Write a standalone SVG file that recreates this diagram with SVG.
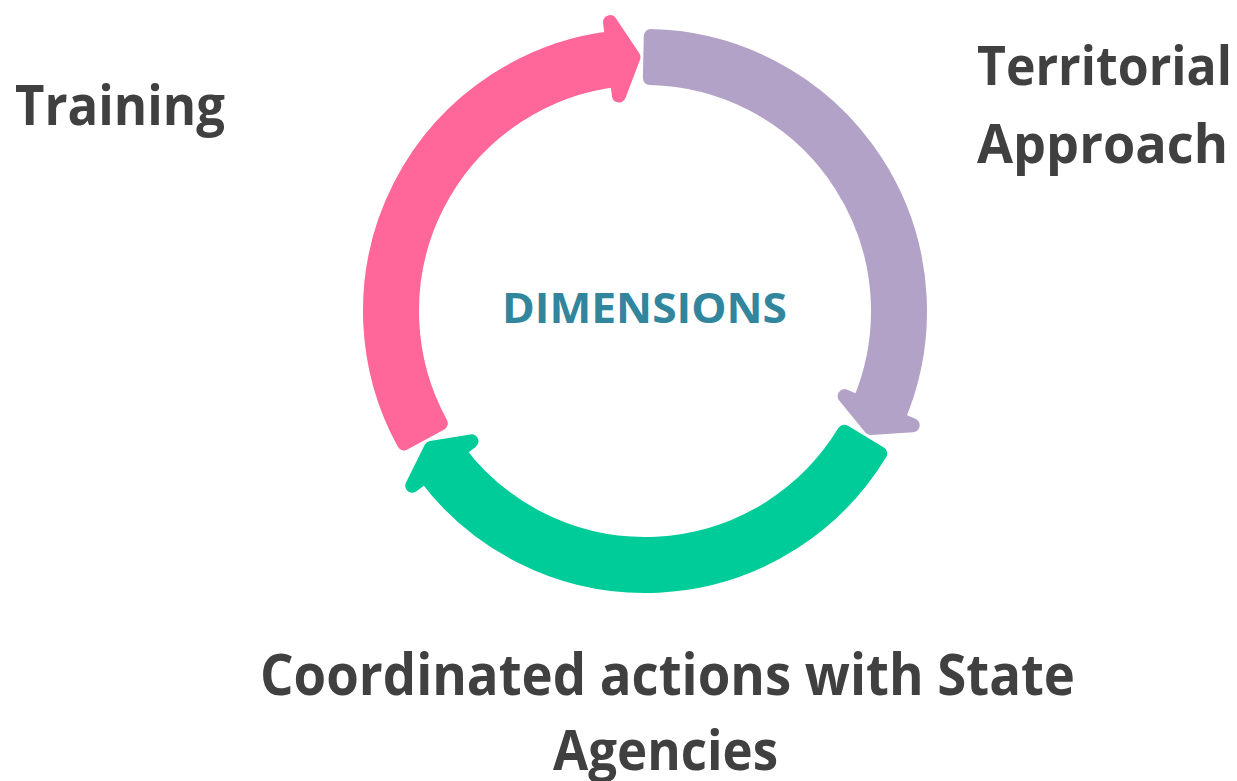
<svg xmlns="http://www.w3.org/2000/svg" width="1237" height="781" viewBox="0 0 1237 781">
  <style>
    .lbl { font-family: "Open Sans", "Liberation Sans", sans-serif; font-weight: 700; fill: #404040; }
    .ctr { font-family: "Open Sans", "Liberation Sans", sans-serif; font-weight: 700; fill: #31859C; }
    .arrow { stroke-width: 14; stroke-linejoin: round; }
  </style>
  <defs>
    <path id="arc" d="M 650.76 36.06 A 275 275 0 0 1 897.95 418.89 L 912.67 425.17 L 870.51 427.89 L 844.60 396.13 L 859.32 402.42 A 233 233 0 0 0 649.88 78.05 Z"/>
  </defs>
  <rect width="1237" height="781" fill="#FFFFFF"/>
  <g id="connectors">
    <use href="#arc" class="arrow" fill="#B3A2C7" stroke="#B3A2C7"/>
    <use href="#arc" class="arrow" fill="#00CC99" stroke="#00CC99" transform="rotate(120 645 311)"/>
    <use href="#arc" class="arrow" fill="#FF6699" stroke="#FF6699" transform="rotate(240 645 311)"/>
  </g>
  <g id="center">
    <text class="ctr" x="502" y="323" font-size="42" textLength="285" lengthAdjust="spacingAndGlyphs">DIMENSIONS</text>
  </g>
  <g id="training">
    <text class="lbl" x="15" y="125" font-size="56" textLength="210" lengthAdjust="spacingAndGlyphs">Training</text>
  </g>
  <g id="territorial">
    <text class="lbl" x="977" y="85" font-size="53" textLength="255" lengthAdjust="spacingAndGlyphs">Territorial</text>
    <text class="lbl" x="977" y="163" font-size="53" textLength="251" lengthAdjust="spacingAndGlyphs">Approach</text>
  </g>
  <g id="coordinated">
    <text class="lbl" x="667.5" y="695" font-size="58" text-anchor="middle" textLength="815" lengthAdjust="spacingAndGlyphs">Coordinated actions with State</text>
    <text class="lbl" x="665.5" y="770" font-size="55" text-anchor="middle" textLength="225" lengthAdjust="spacingAndGlyphs">Agencies</text>
  </g>
</svg>
